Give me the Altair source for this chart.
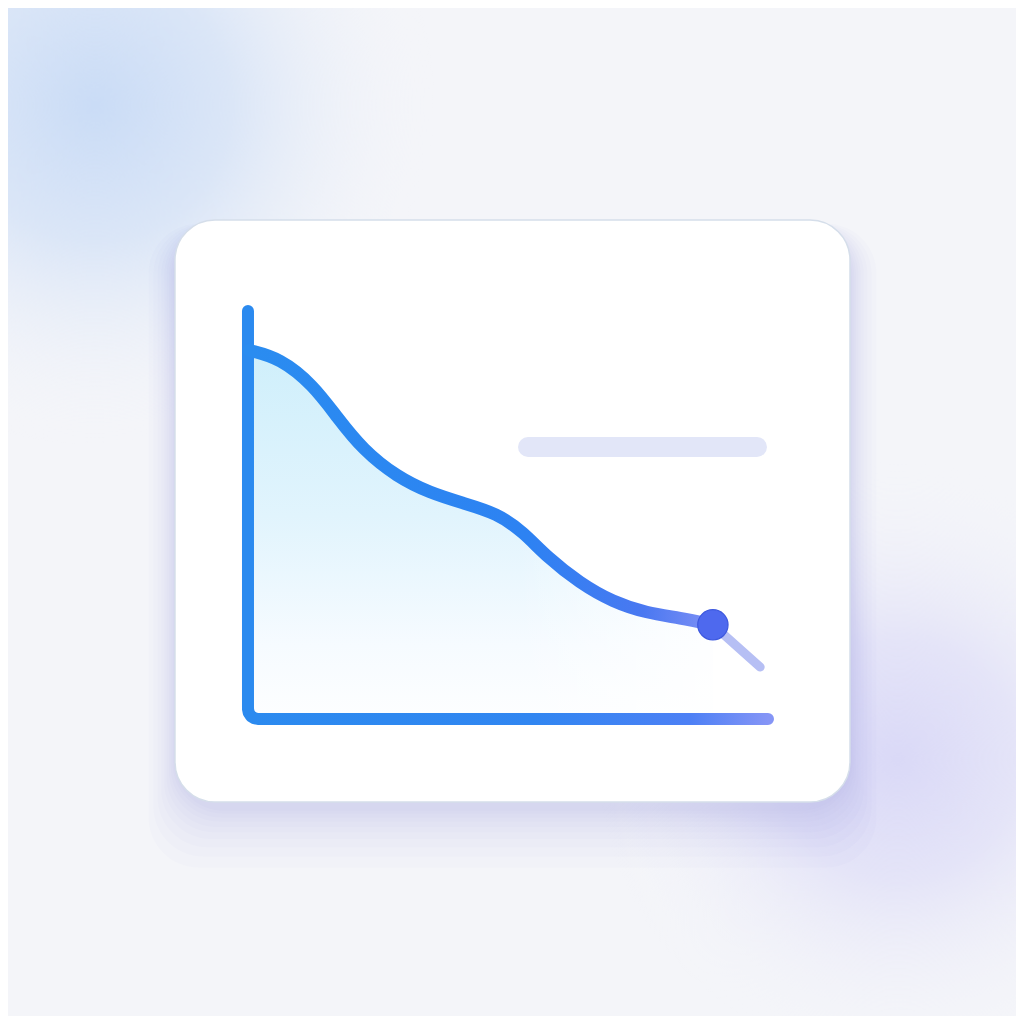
import altair as alt
import pandas as pd

# ---- data (u: position along the x axis, v: value) ----
curve_u = [0.3, 6.15, 12.5, 17.1, 22.1, 28.7, 35.0, 41.3, 47.9, 52.9, 57.5, 63.8, 70.2, 76.7, 83.1, 89.4]
curve_v = [90.8, 88.9, 82.3, 74.4, 66.3, 59.6, 55.7, 53.2, 50.7, 46.1, 39.9, 33.5, 28.8, 26.1, 24.9, 23.2]

tail_u = [89.4, 98.5]
tail_v = [23.2, 12.8]

marker_u = [89.4]
marker_v = [23.2]

axis_u = [0.0, 0.0, 0.146, 0.558, 1.19, 1.92, 100.0]
axis_v = [100.5, 2.46, 1.53, 0.71, 0.2, 0.0, 0.0]

legend_bar_u = [53.85, 97.88]
legend_bar_v = [67.0]

card_u = [-14.04, 115.77]
card_v = [-20.44, 122.9]

fade_u = [52.0, 90.5]
fade_v = [0.0, 48.0]

blob_center_u = [-29.4, 125.0]
blob_center_v = [151.2, -10.0]
blob_radius = [340, 300]
blob_color = ["rgba(202,220,246,1)", "rgba(218,217,247,1)"]

shadow_spread = [2, 4, 7, 10, 14, 18, 23, 29, 36, 44]

# ---- scales ----
PX_U = 5.2
PX_V = 4.06
X_DOMAIN = [-46.15, 147.69]
Y_DOMAIN = [-73.15, 175.12]
XS = alt.Scale(domain=X_DOMAIN, nice=False, zero=False)
YS = alt.Scale(domain=Y_DOMAIN, nice=False, zero=False)


def X(f):
    return alt.X(f, type="quantitative", scale=XS, axis=None)


def Y(f):
    return alt.Y(f, type="quantitative", scale=YS, axis=None)


curve_df = pd.DataFrame({"u": curve_u, "v": curve_v})
tail_df = pd.DataFrame({"u": tail_u, "v": tail_v})
marker_df = pd.DataFrame({"u": marker_u, "v": marker_v})
axis_df = pd.DataFrame({"u": axis_u, "v": axis_v, "i": list(range(len(axis_u)))})
bar_df = pd.DataFrame({"u0": [legend_bar_u[0]], "u1": [legend_bar_u[1]], "v": legend_bar_v})
card_df = pd.DataFrame({"u0": [card_u[0]], "u1": [card_u[1]], "v0": [card_v[0]], "v1": [card_v[1]]})
fade_df = pd.DataFrame({"u0": [fade_u[0]], "u1": [fade_u[1]], "v0": [fade_v[0]], "v1": [fade_v[1]]})

shadow_rows = []
for e in shadow_spread:
    du, dv = 0.6 * e / PX_U, e / PX_V
    off = (6 + 0.35 * e) / PX_V
    shadow_rows.append({"u0": card_u[0] - du, "u1": card_u[1] + du,
                        "v0": card_v[0] - dv - off, "v1": card_v[1] + 0.4 * dv - off})
shadow_df = pd.DataFrame(shadow_rows)

blob_layers = []
for cu, cv, r, col in zip(blob_center_u, blob_center_v, blob_radius, blob_color):
    bdf = pd.DataFrame({"u0": [cu - r / PX_U], "u1": [cu + r / PX_U],
                        "v0": [cv - r / PX_V], "v1": [cv + r / PX_V]})
    grad = {
        "gradient": "radial",
        "x1": 0.5, "y1": 0.5, "r1": 0,
        "x2": 0.5, "y2": 0.5, "r2": 0.5,
        "stops": [
            {"offset": 0, "color": col},
            {"offset": 0.4, "color": col.replace(",1)", ",0.6)")},
            {"offset": 1, "color": "rgba(244,245,249,0)"},
        ],
    }
    blob_layers.append(
        alt.Chart(bdf).mark_rect(fill=grad, clip=True).encode(
            x=X("u0"), x2=alt.X2("u1"), y=Y("v0"), y2=alt.Y2("v1")
        )
    )

shadow = alt.Chart(shadow_df).mark_rect(
    fill="#7a84cc", opacity=0.022, cornerRadius=50
).encode(x=X("u0"), x2=alt.X2("u1"), y=Y("v0"), y2=alt.Y2("v1"))

card = alt.Chart(card_df).mark_rect(
    fill="#ffffff", stroke="#d5deea", strokeWidth=1.5, cornerRadius=40
).encode(x=X("u0"), x2=alt.X2("u1"), y=Y("v0"), y2=alt.Y2("v1"))

area_grad = {
    "gradient": "linear", "x1": 0, "y1": 0, "x2": 0, "y2": 1,
    "stops": [
        {"offset": 0, "color": "#cfeffb"},
        {"offset": 0.45, "color": "#e1f4fd"},
        {"offset": 0.8, "color": "#f6fbff"},
        {"offset": 1, "color": "#fdfeff"},
    ],
}
area = alt.Chart(curve_df).mark_area(
    fill=area_grad, interpolate="basis"
).encode(x=X("u"), y=Y("v"), y2=alt.datum(0))

fade_grad = {
    "gradient": "linear", "x1": 0, "y1": 0, "x2": 1, "y2": 0,
    "stops": [
        {"offset": 0, "color": "rgba(255,255,255,0)"},
        {"offset": 1, "color": "rgba(255,255,255,0.85)"},
    ],
}
fade = alt.Chart(fade_df).mark_rect(fill=fade_grad).encode(
    x=X("u0"), x2=alt.X2("u1"), y=Y("v0"), y2=alt.Y2("v1")
)

legend_bar = alt.Chart(bar_df).mark_rule(
    color="#e2e6f8", strokeWidth=20, strokeCap="round"
).encode(x=X("u0"), x2=alt.X2("u1"), y=Y("v"))

axis_grad = {
    "gradient": "linear", "x1": 0, "y1": 0, "x2": 1, "y2": 0,
    "stops": [
        {"offset": 0, "color": "#2b8aef"},
        {"offset": 0.55, "color": "#3186f1"},
        {"offset": 0.85, "color": "#4d80f5"},
        {"offset": 1, "color": "#8595f6"},
    ],
}
axis_line = alt.Chart(axis_df).mark_line(
    stroke=axis_grad, strokeWidth=12, strokeCap="round", strokeJoin="round"
).encode(x=X("u"), y=Y("v"), order=alt.Order("i:Q"))

tail = alt.Chart(tail_df).mark_line(
    stroke="#b6bff4", strokeWidth=9, strokeCap="round"
).encode(x=X("u"), y=Y("v"))

curve_grad = {
    "gradient": "linear", "x1": 0, "y1": 0, "x2": 1, "y2": 0,
    "stops": [
        {"offset": 0, "color": "#2a8cf0"},
        {"offset": 0.6, "color": "#2d82f2"},
        {"offset": 0.85, "color": "#4a78f1"},
        {"offset": 1, "color": "#7e90f5"},
    ],
}
curve = alt.Chart(curve_df).mark_line(
    stroke=curve_grad, strokeWidth=12.5, strokeCap="round", interpolate="basis"
).encode(x=X("u"), y=Y("v"))

marker = alt.Chart(marker_df).mark_point(
    filled=True, fill="#4e69ee", stroke="#3d58de", strokeWidth=1.2, size=920, opacity=1
).encode(x=X("u"), y=Y("v"))

chart = alt.layer(
    *blob_layers, shadow, card, area, fade, legend_bar, axis_line, tail, curve, marker
).properties(
    width=1008, height=1008, padding=0, autosize="none", background="#f4f5f9"
).configure_view(stroke=None)

chart.save("out.html", embed_options={"renderer": "svg", "actions": False})
